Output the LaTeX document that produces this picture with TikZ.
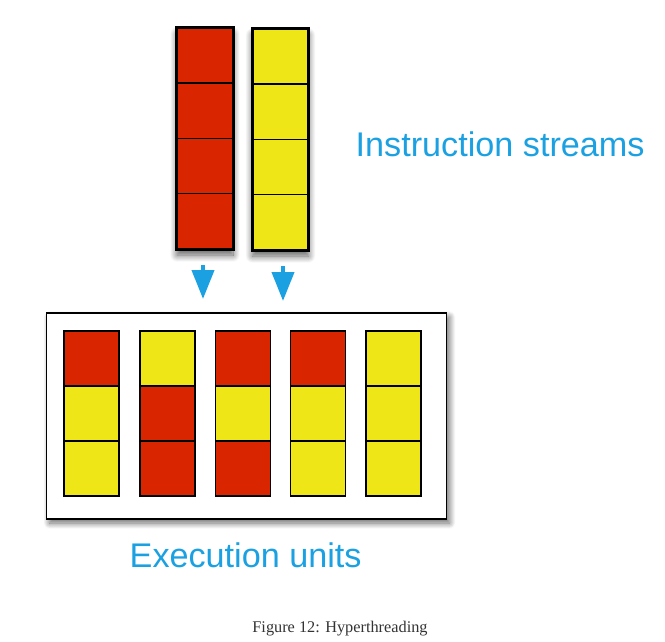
\documentclass[tikz,border=0pt]{standalone}
\usepackage{fontspec}
\setmainfont{Liberation Serif}
\newfontfamily\helv{Liberation Sans}
\usetikzlibrary{arrows.meta,shadows.blur}
\definecolor{cred}{HTML}{D92600}
\definecolor{cyel}{HTML}{EEE617}
\definecolor{cblue}{HTML}{1BA1E2}
\tikzset{
  cell/.style={draw=black,line width=1.5pt,minimum width=55pt,minimum height=55pt,inner sep=0pt,outer sep=0pt},
  rcell/.style={cell,fill=cred},
  ycell/.style={cell,fill=cyel},
  colframe/.style={draw=black,line width=1.8pt,minimum width=56pt,minimum height=221pt,inner sep=0pt,fill=white,
    blur shadow={shadow xshift=0pt,shadow yshift=-6pt,shadow blur steps=12,shadow opacity=65,shadow blur radius=7pt}},
  unitbox/.style={draw=black,line width=1.8pt,fill=white,minimum width=400pt,minimum height=206pt,inner sep=0pt,
    blur shadow={shadow xshift=3pt,shadow yshift=-4pt,shadow blur steps=12,shadow opacity=60,shadow blur radius=6pt}},
  bluearrow/.style={draw=cblue,line width=4pt,-{Triangle[width=22pt,length=29pt]}},
  bluelabel/.style={text=cblue,font=\helv\fontsize{34.2}{40}\selectfont,inner sep=0pt,anchor=base west},
  caption/.style={font=\fontsize{16.3}{19}\selectfont,inner sep=0pt,anchor=base,text=black!80}
}
\begin{document}
\begin{tikzpicture}[x=1pt,y=-1pt]
\useasboundingbox (0,0) rectangle (665,642);
% instruction stream columns
\node[colframe] (redcol) at (205,138.5) {};
\node[colframe] (yelcol) at (280.5,139.5) {};
\foreach \k in {0,1,2,3}{
  \node[rcell] (r\k) at (205,{28+27.6+55.2*\k}) {};
  \node[ycell] (y\k) at (280.5,{29+27.6+55.2*\k}) {};
}
\draw[line width=1.8pt] (redcol.north west) rectangle (redcol.south east);
\draw[line width=1.8pt] (yelcol.north west) rectangle (yelcol.south east);
% arrows
\coordinate (a1s) at (203,265);
\coordinate (a1e) at (203,299);
\coordinate (a2s) at (283,266);
\coordinate (a2e) at (283,301);
\draw[bluearrow] (a1s) -- (a1e);
\draw[bluearrow] (a2s) -- (a2e);
% execution unit box
\node[unitbox] (box) at (246.5,416) {};
% columns inside
\foreach \x/\a/\b/\c [count=\i] in {91.5/rcell/ycell/ycell, 167.5/ycell/rcell/rcell, 243/rcell/ycell/rcell, 318/rcell/ycell/ycell, 393.5/ycell/ycell/ycell}{
  \node[\a] (u\i a) at (\x,358.5) {};
  \node[\b] (u\i b) at (\x,413.5) {};
  \node[\c] (u\i c) at (\x,468.5) {};
}
% labels
\node[bluelabel] (instr) at (355.5,157) {Instruction streams};
\node[bluelabel] (exec) at (129.5,567) {Execution units};
\node[caption] (cap) at (340,632) {Figure 12: Hyperthreading};
\end{tikzpicture}
\end{document}
